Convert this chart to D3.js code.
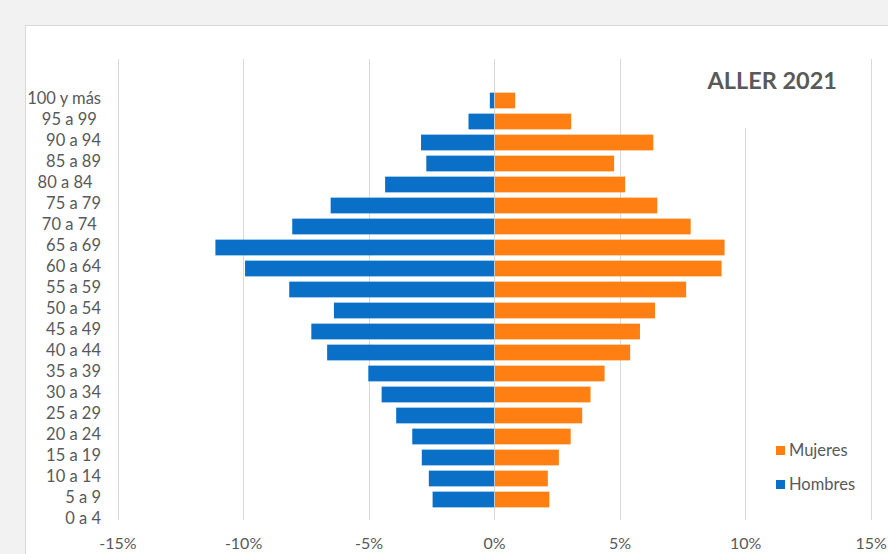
<!DOCTYPE html>
<html>
<head>
<meta charset="utf-8">
<script src="https://cdn.jsdelivr.net/npm/d3@7"></script>
<style>
  body { margin: 0; background: #f2f2f2; }
  svg { display: block; }
  text { font-family: Lato, "Open Sans", sans-serif; fill: #595959; white-space: pre; }
</style>
</head>
<body>
<svg width="888" height="554"></svg>
<script>
// age groups, top to bottom (trailing spaces as in the original labels)
const AGE_GROUPS = ["100 y más", "95 a 99 ", "90 a 94", "85 a 89", "80 a 84  ", "75 a 79", "70 a 74 ",
  "65 a 69", "60 a 64", "55 a 59", "50 a 54", "45 a 49", "40 a 44", "35 a 39", "30 a 34",
  "25 a 29", "20 a 24", "15 a 19", "10 a 14", "5 a 9", "0 a 4"]

// % of population
const HOMBRES = [0.17, 1.02, 2.91, 2.70, 4.34, 6.51, 8.04, 11.10, 9.92, 8.16, 6.38,
  7.28, 6.65, 5.01, 4.48, 3.90, 3.26, 2.88, 2.60, 2.45, 0]
const MUJERES = [0.84, 3.07, 6.34, 4.78, 5.22, 6.50, 7.83, 9.18, 9.06, 7.65, 6.41,
  5.81, 5.42, 4.40, 3.84, 3.51, 3.05, 2.58, 2.14, 2.20, 0]

const X_TICKS = [-15, -10, -5, 0, 5, 10, 15]
const TITLE = "ALLER 2021"

const svg = d3.select('svg')

// white chart area
svg.append('rect')
  .attr('x', 25.5).attr('y', 25.5)
  .attr('width', 900).attr('height', 600)
  .attr('fill', '#fff')
  .attr('stroke', '#d9d9d9')

const xScale = d3.scaleLinear()
  .domain([-15, 15])
  .range([117.5, 870.7])

const yScale = d3.scaleBand()
  .domain(AGE_GROUPS)
  .range([90, 531])
  .paddingInner(0.25)
  .paddingOuter(0.125)

// vertical gridlines
svg.append('g')
  .selectAll('line')
  .data(X_TICKS)
  .enter()
  .append('line')
  .attr('x1', d => Math.round(xScale(d)) + 0.5)
  .attr('x2', d => Math.round(xScale(d)) + 0.5)
  .attr('y1', 59)
  .attr('y2', 520)
  .attr('stroke', '#d9d9d9')

// x axis labels
const xAxis = d3.axisBottom(xScale)
  .tickValues(X_TICKS)
  .tickFormat(d => d + '%')
  .tickSize(0)
  .tickPadding(0)

const gx = svg.append('g')
  .attr('transform', 'translate(0,536)')
  .call(xAxis)
gx.select('.domain').remove()
gx.selectAll('text')
  .attr('dy', null)
  .attr('y', 13)
  .style('font-size', '16px')
  .style('font-family', null)
  .attr('fill', '#595959')

// bars
svg.append('g')
  .selectAll('rect')
  .data(HOMBRES)
  .enter()
  .append('rect')
  .attr('x', d => xScale(-d))
  .attr('y', (d, i) => yScale(AGE_GROUPS[i]))
  .attr('width', d => xScale(0) - xScale(-d))
  .attr('height', yScale.bandwidth())
  .attr('fill', '#0a6fc6')

svg.append('g')
  .selectAll('rect')
  .data(MUJERES)
  .enter()
  .append('rect')
  .attr('x', xScale(0) + 0.8)
  .attr('y', (d, i) => yScale(AGE_GROUPS[i]))
  .attr('width', d => Math.max(0, xScale(d) - xScale(0) - 0.8))
  .attr('height', yScale.bandwidth())
  .attr('fill', '#ff7f12')

// category labels
const yAxis = d3.axisLeft(yScale).tickSize(0).tickPadding(0)
const gy = svg.append('g')
  .attr('transform', 'translate(101,0)')
  .call(yAxis)
gy.select('.domain').remove()
gy.selectAll('text')
  .attr('dy', '0.32em')
  .attr('y', -1.5)
  .style('font-size', '16.5px')
  .style('font-family', null)
  .attr('fill', '#595959')

// title box covers the gridline behind it
svg.append('rect')
  .attr('x', 700).attr('y', 58)
  .attr('width', 152).attr('height', 70)
  .attr('fill', '#fff')
svg.append('text')
  .attr('x', 837).attr('y', 89)
  .attr('text-anchor', 'end')
  .style('font-size', '23.5px')
  .style('font-weight', 'bold')
  .text(TITLE)

// legend
const legend = [
  {name: 'Mujeres', color: '#ff7f12'},
  {name: 'Hombres', color: '#0a6fc6'}
]
const lg = svg.append('g')
  .selectAll('g')
  .data(legend)
  .enter()
  .append('g')
  .attr('transform', (d, i) => `translate(776,${446 + i * 34})`)
lg.append('rect')
  .attr('width', 9).attr('height', 9)
  .attr('fill', d => d.color)
lg.append('text')
  .attr('x', 13).attr('y', 9.5)
  .style('font-size', '16.5px')
  .text(d => d.name)
</script>
</body>
</html>
